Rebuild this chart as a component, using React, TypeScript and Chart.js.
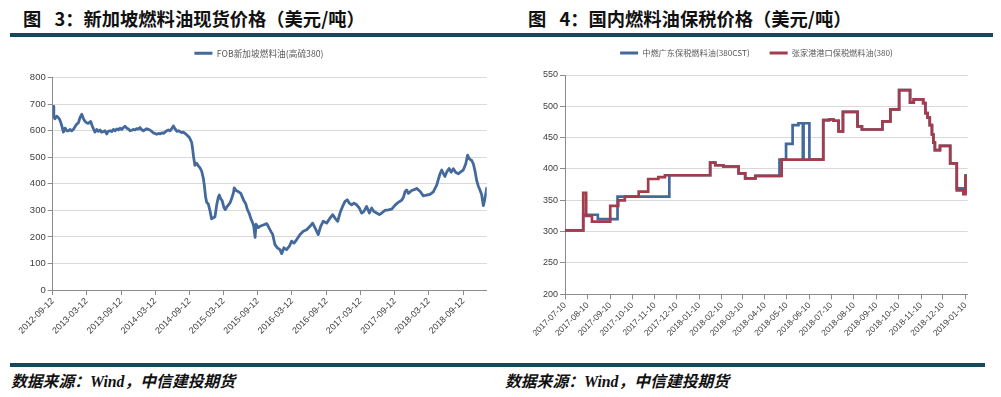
import React, { useEffect, useRef } from 'react';
import { Chart, registerables } from 'chart.js';

Chart.register(...registerables);

// ---------- Figure 3: FOB Singapore fuel oil (HSFO 380), USD/t ----------
const fobStart = '2012-09-12';
const fobAxisEnd = '2019-01-15';
const fobLabel = 'FOB新加坡燃料油(高硫380)';
const fobTickLabels = [
  '2012-09-12', '2013-03-12', '2013-09-12', '2014-03-12', '2014-09-12', '2015-03-12',
  '2015-09-12', '2016-03-12', '2016-09-12', '2017-03-12', '2017-09-12', '2018-03-12', '2018-09-12',
];
// [days since fobStart, price]
const fobSeries: [number, number][] = [
  [0, 680], [3, 692], [6, 652], [12, 645], [21, 655], [30, 650], [39, 640], [48, 620], [57, 595], [66, 610],
  [75, 600], [84, 600], [92, 605], [101, 600], [110, 605], [119, 615], [128, 625], [137, 630], [146, 650], [155, 662],
  [164, 645], [173, 635], [181, 630], [190, 628], [203, 635], [210, 620], [217, 608], [226, 595], [235, 605], [244, 598],
  [253, 603], [261, 595], [270, 597], [279, 600], [288, 588], [297, 598], [306, 600], [315, 597], [324, 605], [333, 600],
  [342, 607], [350, 603], [359, 610], [368, 605], [377, 612], [386, 617], [395, 610], [404, 607], [413, 600], [422, 602],
  [430, 605], [439, 603], [448, 608], [457, 606], [466, 612], [475, 604], [484, 600], [493, 604], [502, 608], [510, 605],
  [519, 603], [528, 598], [537, 592], [546, 590], [555, 587], [564, 590], [573, 588], [582, 592], [591, 590], [599, 595],
  [608, 600], [617, 603], [626, 600], [635, 608], [644, 618], [653, 607], [662, 598], [671, 600], [679, 597], [688, 593],
  [697, 595], [706, 590], [715, 585], [724, 578], [729, 575], [736, 565], [742, 555], [747, 530], [752, 500], [759, 470],
  [768, 478], [777, 468], [786, 460], [795, 448], [804, 420], [809, 395], [816, 350], [822, 330], [830, 325], [839, 300],
  [848, 268], [857, 272], [866, 276], [875, 320], [884, 350], [889, 358], [896, 345], [905, 335], [914, 310], [921, 303],
  [928, 312], [937, 320], [946, 328], [955, 345], [964, 365], [969, 385], [978, 375], [987, 372], [996, 368], [1003, 365],
  [1012, 350], [1021, 335], [1030, 325], [1039, 303], [1048, 290], [1057, 270], [1066, 255], [1073, 240], [1080, 198], [1085, 248],
  [1097, 235], [1106, 240], [1124, 245], [1142, 250], [1150, 240], [1165, 220], [1174, 209], [1186, 171], [1199, 159], [1213, 152],
  [1222, 137], [1234, 159], [1248, 152], [1263, 165], [1275, 184], [1288, 177], [1302, 190], [1320, 209], [1337, 221], [1355, 227],
  [1373, 240], [1387, 252], [1400, 234], [1417, 209], [1430, 240], [1444, 259], [1462, 252], [1480, 271], [1494, 284], [1506, 271],
  [1521, 259], [1533, 290], [1547, 315], [1560, 334], [1572, 340], [1583, 327], [1595, 321], [1608, 327], [1622, 321], [1636, 309],
  [1649, 290], [1661, 296], [1675, 315], [1690, 290], [1702, 309], [1714, 296], [1729, 290], [1743, 284], [1756, 290], [1773, 300],
  [1791, 302], [1809, 305], [1827, 320], [1844, 330], [1862, 338], [1872, 350], [1880, 370], [1889, 377], [1898, 364], [1916, 375],
  [1933, 379], [1942, 383], [1960, 372], [1978, 355], [1996, 358], [2013, 360], [2031, 370], [2049, 395], [2067, 438], [2076, 452],
  [2085, 438], [2093, 428], [2102, 444], [2115, 458], [2126, 444], [2138, 457], [2150, 444], [2165, 438], [2179, 446], [2191, 452],
  [2204, 475], [2214, 508], [2223, 494], [2236, 488], [2245, 475], [2254, 447], [2262, 414], [2271, 392], [2280, 377], [2289, 360],
  [2298, 318], [2307, 345], [2316, 384],
];
const fobYMin = 0;
const fobYMax = 800;
const fobYStep = 100;

// ---------- Figure 4: domestic bonded fuel oil, USD/t ----------
const bondStart = '2017-07-10';
const bondAxisEnd = '2019-01-13';
const gdLabel = '中燃广东保税燃料油(380CST)';
const zjgLabel = '张家港港口保税燃料油(380)';
const bondTickLabels = [
  '2017-07-10', '2017-08-10', '2017-09-10', '2017-10-10', '2017-11-10', '2017-12-10', '2018-01-10',
  '2018-02-10', '2018-03-10', '2018-04-10', '2018-05-10', '2018-06-10', '2018-07-10', '2018-08-10',
  '2018-09-10', '2018-10-10', '2018-11-10', '2018-12-10', '2019-01-10',
];
// [days since bondStart, new price from that day]
const gdSeries: [number, number][] = [
  [0, 302], [25, 327], [45, 320], [72, 356], [143, 390], [197, 390], [199, 410], [206, 406], [217, 404], [238, 393],
  [247, 385], [261, 389], [294, 415], [303, 440], [312, 470], [320, 473], [326, 415], [327, 473], [335, 415], [354, 478],
  [362, 479], [368, 477], [375, 460], [381, 491], [401, 468], [407, 463], [435, 476], [446, 495], [458, 526], [473, 506],
  [478, 511], [491, 505], [494, 489], [497, 482], [500, 470], [503, 455], [505, 442], [507, 430], [514, 437], [528, 409],
  [537, 369], [546, 362], [549, 390], [551, 390],
];
const zjgSeries: [number, number][] = [
  [0, 302], [25, 362], [29, 325], [37, 316], [62, 341], [73, 350], [82, 356], [101, 364], [114, 384], [128, 387],
  [137, 390], [197, 390], [199, 410], [206, 406], [217, 404], [238, 393], [247, 385], [261, 389], [297, 415], [354, 478],
  [362, 479], [368, 477], [375, 460], [381, 491], [401, 468], [407, 463], [435, 476], [446, 495], [458, 526], [473, 506],
  [478, 511], [491, 505], [494, 489], [497, 482], [500, 470], [503, 455], [505, 442], [507, 430], [514, 437], [528, 409],
  [537, 366], [546, 360], [549, 388], [551, 388],
];
const bondYMin = 200;
const bondYMax = 550;
const bondYStep = 50;

// ---------- helpers ----------
const toUTC = (s: string) => {
  const [y, m, d] = s.split('-').map(Number);
  return Date.UTC(y, m - 1, d);
};
const daysBetween = (a: string, b: string) => Math.round((toUTC(b) - toUTC(a)) / 86400000);

const BLUE = '#44699b';
const RED = '#a33c4c';
const AXIS = '#8c8c8c';
const GRID = '#d9d9d9';
const TICK_TEXT = '#404040';
const NUM_FONT = '"Liberation Sans", Arial, sans-serif';
const CJK_FONT = '"Noto Sans CJK SC", "Noto Sans", sans-serif';

// Fixes the legend block height and nudges the legend horizontally.
const legendPlacementPlugin = (h: number, dx: number) => ({
  id: 'legendPlacement',
  beforeLayout(chart: any) {
    const lg = chart.legend;
    if (lg && !lg.__patched) {
      const orig = lg.fit;
      lg.fit = function () {
        orig.call(this);
        this.height = h;
      };
      lg.__patched = true;
    }
  },
  afterLayout(chart: any) {
    const lg = chart.legend;
    if (lg) {
      lg.left += dx;
      lg.right += dx;
    }
  },
});

const thinLegendLabels = (chart: any) =>
  Chart.defaults.plugins.legend.labels.generateLabels(chart).map((l: any) => ({ ...l, lineWidth: 0 }));

function makeDateAxis(start: string, end: string, labels: string[], fontSize: number, height: number) {
  const tickDays = labels.map((l) => daysBetween(start, l));
  return {
    type: 'linear',
    min: 0,
    max: daysBetween(start, end),
    afterBuildTicks: (scale: any) => {
      scale.ticks = tickDays.map((v) => ({ value: v }));
    },
    afterFit: (scale: any) => {
      scale.height = height;
    },
    ticks: {
      autoSkip: false,
      minRotation: 45,
      maxRotation: 45,
      padding: 1,
      color: TICK_TEXT,
      font: { family: NUM_FONT, size: fontSize },
      callback: (v: any) => {
        const i = tickDays.indexOf(Number(v));
        return i >= 0 ? labels[i] : '';
      },
    },
    grid: { drawOnChartArea: false, tickLength: 5, tickColor: AXIS, color: AXIS },
    border: { color: AXIS, width: 1 },
  };
}

function makeValueAxis(min: number, max: number, step: number, fontSize: number, width: number) {
  return {
    min,
    max,
    afterFit: (scale: any) => {
      scale.width = width;
    },
    ticks: { stepSize: step, color: TICK_TEXT, padding: 2, font: { family: NUM_FONT, size: fontSize } },
    grid: { color: GRID, tickColor: AXIS, tickLength: 5, lineWidth: 1 },
    border: { color: AXIS, width: 1 },
  };
}

function FobChart() {
  const ref = useRef<HTMLCanvasElement>(null);
  useEffect(() => {
    const chart = new Chart(ref.current as HTMLCanvasElement, {
      type: 'line',
      data: {
        datasets: [
          {
            label: fobLabel,
            data: fobSeries.map(([d, v]) => ({ x: d, y: v })),
            borderColor: BLUE,
            backgroundColor: BLUE,
            borderWidth: 2.8,
            borderJoinStyle: 'round',
            borderCapStyle: 'round',
            pointRadius: 0,
            tension: 0,
          },
        ],
      },
      options: {
        animation: false,
        responsive: false,
        maintainAspectRatio: false,
        layout: { padding: { left: 0, right: 33.3, top: 3, bottom: 0 } },
        plugins: {
          legend: {
            display: true,
            position: 'top',
            labels: {
              boxWidth: 18,
              boxHeight: 3,
              padding: 6,
              color: '#595959',
              font: { family: CJK_FONT, size: 8.7 },
              generateLabels: thinLegendLabels,
            },
          },
          tooltip: { enabled: false },
        },
        scales: {
          x: makeDateAxis(fobStart, fobAxisEnd, fobTickLabels, 9, 70),
          y: makeValueAxis(fobYMin, fobYMax, fobYStep, 9.5, 52.7),
        },
      } as any,
      plugins: [legendPlacementPlugin(34.7, 15.6)],
    } as any);
    return () => chart.destroy();
  }, []);
  return (
    <canvas
      ref={ref}
      width={520}
      height={320}
      style={{ position: 'absolute', left: 0, top: 40, width: 520, height: 320 }}
    />
  );
}

function BondChart() {
  const ref = useRef<HTMLCanvasElement>(null);
  useEffect(() => {
    const chart = new Chart(ref.current as HTMLCanvasElement, {
      type: 'line',
      data: {
        datasets: [
          {
            label: gdLabel,
            data: gdSeries.map(([d, v]) => ({ x: d, y: v })),
            borderColor: BLUE,
            backgroundColor: BLUE,
            borderWidth: 2.7,
            pointRadius: 0,
            stepped: true,
            order: 2,
          },
          {
            label: zjgLabel,
            data: zjgSeries.map(([d, v]) => ({ x: d, y: v })),
            borderColor: RED,
            backgroundColor: RED,
            borderWidth: 2.7,
            pointRadius: 0,
            stepped: true,
            order: 1,
          },
        ],
      },
      options: {
        animation: false,
        responsive: false,
        maintainAspectRatio: false,
        layout: { padding: { left: 0, right: 33.3, top: 4, bottom: 0 } },
        plugins: {
          legend: {
            display: true,
            position: 'top',
            labels: {
              boxWidth: 18,
              boxHeight: 3,
              padding: 20,
              color: '#595959',
              font: { family: CJK_FONT, size: 8.2 },
              sort: (a: any, b: any) => a.datasetIndex - b.datasetIndex,
              generateLabels: thinLegendLabels,
            },
          },
          tooltip: { enabled: false },
        },
        scales: {
          x: makeDateAxis(bondStart, bondAxisEnd, bondTickLabels, 8.5, 65.7),
          y: makeValueAxis(bondYMin, bondYMax, bondYStep, 9, 55),
        },
      } as any,
      plugins: [legendPlacementPlugin(46, 17.6)],
    } as any);
    return () => chart.destroy();
  }, []);
  return (
    <canvas
      ref={ref}
      width={491}
      height={335}
      style={{ position: 'absolute', left: 510, top: 25, width: 491, height: 335 }}
    />
  );
}

const titleStyle: React.CSSProperties = {
  position: 'absolute',
  top: 6,
  fontFamily: CJK_FONT,
  fontWeight: 700,
  fontSize: 18.3,
  lineHeight: '24px',
  color: '#111',
  whiteSpace: 'pre',
  wordSpacing: 9,
};

const sourceStyle: React.CSSProperties = {
  position: 'absolute',
  top: 372,
  fontFamily: '"Liberation Serif", "Noto Sans CJK SC", serif',
  fontWeight: 700,
  fontStyle: 'italic',
  fontSize: 15.8,
  lineHeight: '20px',
  color: '#111',
  whiteSpace: 'pre',
};

export default function App() {
  return (
    <div
      style={{
        position: 'absolute',
        left: 0,
        top: 0,
        width: 1001,
        height: 397,
        background: '#ffffff',
        overflow: 'hidden',
      }}
    >
      <div style={{ ...titleStyle, left: 23 }}>图 3：新加坡燃料油现货价格（美元/吨）</div>
      <div style={{ ...titleStyle, left: 528 }}>图 4：国内燃料油保税价格（美元/吨）</div>
      <div style={{ position: 'absolute', left: 10, top: 33, width: 983, height: 3.5, background: '#18485b' }} />
      <div style={{ position: 'absolute', left: 10, top: 363, width: 975, height: 4, background: '#18485b' }} />
      <div style={{ ...sourceStyle, left: 11 }}>数据来源：Wind，中信建投期货</div>
      <div style={{ ...sourceStyle, left: 505 }}>数据来源：Wind，中信建投期货</div>
      <FobChart />
      <BondChart />
    </div>
  );
}
